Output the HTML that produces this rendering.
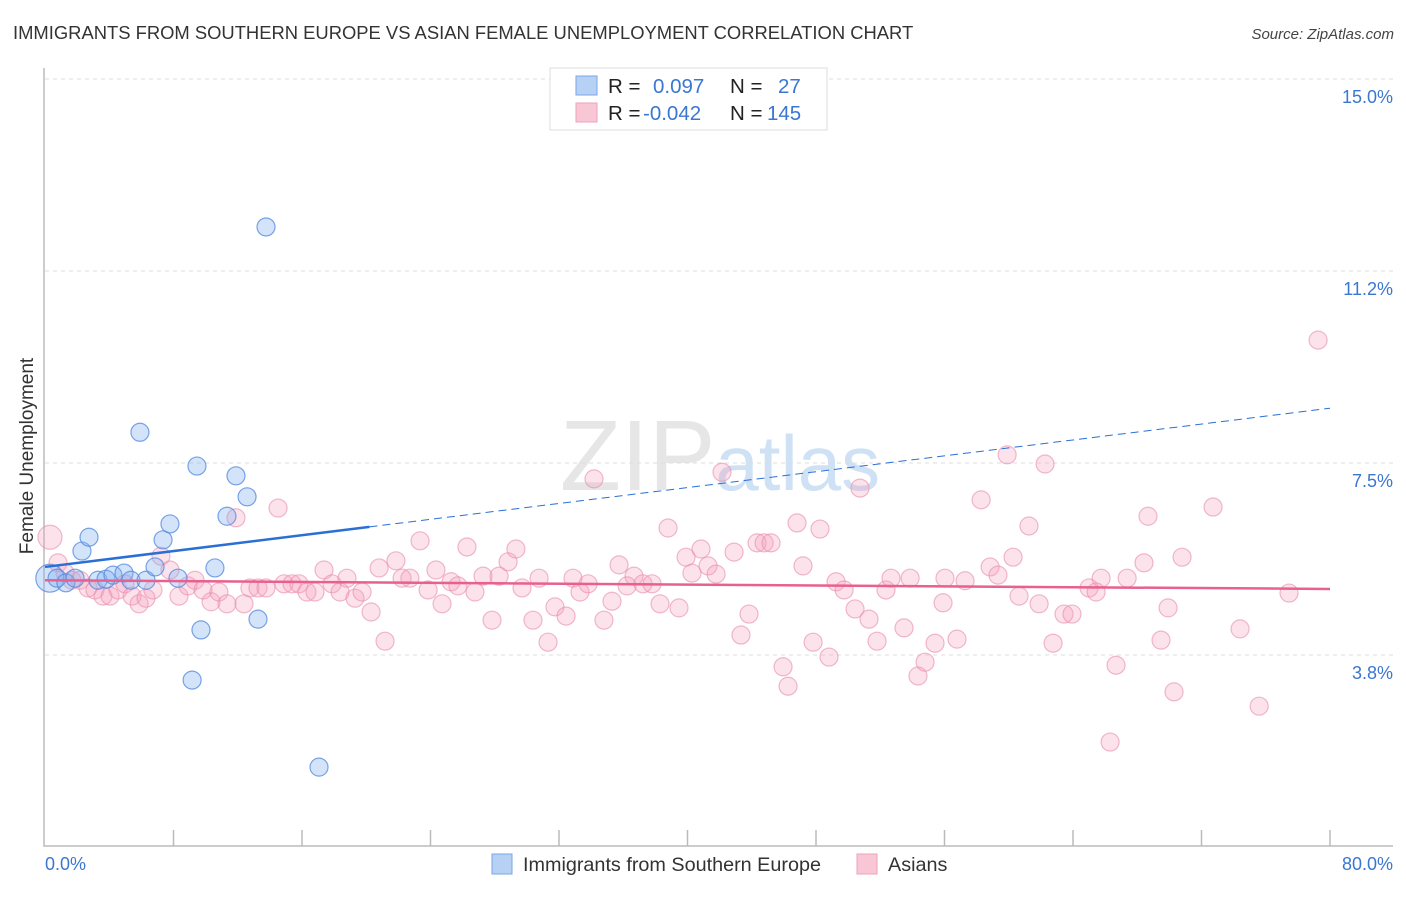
<!DOCTYPE html>
<html><head><meta charset="utf-8"><style>
body{margin:0;background:#fff;font-family:"Liberation Sans",sans-serif;}
svg text{font-family:"Liberation Sans",sans-serif;}
</style></head><body>
<svg id="chart" width="1406" height="892" xmlns="http://www.w3.org/2000/svg">
<text x="13" y="39" font-size="18.4" fill="#333">IMMIGRANTS FROM SOUTHERN EUROPE VS ASIAN FEMALE UNEMPLOYMENT CORRELATION CHART</text>
<text x="1394" y="39" font-size="15" fill="#444" text-anchor="end" font-style="italic">Source: ZipAtlas.com</text>
<text x="720" y="490" font-size="100" text-anchor="middle" font-family="Liberation Serif" fill="#e0e0e0" opacity="0.8">ZIP<tspan fill="#c4daf2" font-family="Liberation Sans" font-size="78">atlas</tspan></text>
<text transform="translate(33,456) rotate(-90)" font-size="19" fill="#333" text-anchor="middle">Female Unemployment</text>
<g id="grid"></g><g id="axes"></g><g id="pts"></g><g id="trends"></g>
<g>
<rect x="550" y="68" width="277" height="62" fill="#fff" stroke="#ddd"/>
<rect x="576" y="76" width="21" height="19" fill="#b7d1f5" stroke="#7aa6e6"/>
<rect x="576" y="103" width="21" height="19" fill="#f9c6d5" stroke="#eea3bb"/>
<text x="608" y="93" font-size="20.5" fill="#222">R =</text><text x="653" y="93" font-size="20.5" fill="#3a77d1">0.097</text>
<text x="730" y="93" font-size="20.5" fill="#222">N =</text><text x="778" y="93" font-size="20.5" fill="#3a77d1">27</text>
<text x="608" y="120" font-size="20.5" fill="#222">R =</text><text x="643" y="120" font-size="20.5" fill="#3a77d1">-0.042</text>
<text x="730" y="120" font-size="20.5" fill="#222">N =</text><text x="767" y="120" font-size="20.5" fill="#3a77d1">145</text>
</g>
<g>
<rect x="492" y="854" width="20" height="20" fill="#b7d1f5" stroke="#7aa6e6"/>
<text x="523" y="871" font-size="19.8" fill="#333">Immigrants from Southern Europe</text>
<rect x="857" y="854" width="20" height="20" fill="#f9c6d5" stroke="#eea3bb"/>
<text x="888" y="871" font-size="19.8" fill="#333">Asians</text>
</g>
</svg>
<script>
const yTicks=[3.8,7.5,11.2,15.0];
const yTickVals=[3.75,7.5,11.25,15];
const xLabels=["0.0%","80.0%"];
const blueX=[0.3,0.75,1.3,1.87,2.3,2.74,3.3,3.8,4.23,4.92,5.35,5.91,6.29,6.85,7.35,7.78,8.28,9.16,9.46,9.71,10.58,11.33,11.89,12.58,13.26,13.76,17.06];
const blueY=[5.25,5.25,5.16,5.25,5.78,6.05,5.21,5.23,5.31,5.35,5.21,8.1,5.21,5.47,6.0,6.31,5.25,3.26,7.44,4.24,5.45,6.46,7.25,6.84,4.45,12.11,1.56];
const pinkX=[0.31,0.81,1.25,1.68,2.18,2.68,3.11,3.61,4.05,4.55,4.98,5.42,5.86,6.29,6.72,7.22,7.78,8.34,8.90,9.34,9.84,10.34,10.83,11.33,11.89,12.39,12.76,13.26,13.76,14.51,14.88,15.38,15.81,16.31,16.81,17.37,17.87,18.37,18.80,19.30,19.74,20.30,20.80,21.17,21.85,22.23,22.72,23.35,23.85,24.34,24.72,25.28,25.71,26.27,26.77,27.27,27.83,28.27,28.83,29.32,29.70,30.38,30.76,31.32,31.75,32.44,32.87,33.31,33.81,34.18,34.80,35.30,35.74,36.24,36.67,37.23,37.79,38.29,38.79,39.47,39.91,40.28,40.84,41.28,41.78,42.15,42.90,43.33,43.83,44.33,44.77,45.20,45.95,46.26,46.82,47.19,47.82,48.25,48.81,49.25,49.75,50.43,50.74,51.30,51.80,52.36,52.67,53.48,53.86,54.35,54.79,55.41,55.91,56.03,56.78,57.28,58.28,58.84,59.33,59.90,60.27,60.64,61.26,61.89,62.26,62.76,63.44,63.94,65.00,65.44,65.75,66.31,66.68,67.37,68.42,68.67,69.48,69.92,70.29,70.79,72.72,74.40,75.59,77.45,79.26];
const pinkY=[6.05,5.55,5.35,5.21,5.21,5.06,5.02,4.90,4.90,5.02,5.14,4.90,4.75,4.86,5.02,5.68,5.41,4.90,5.10,5.21,5.02,4.79,4.98,4.75,6.43,4.75,5.06,5.06,5.06,6.62,5.14,5.14,5.14,4.98,4.98,5.41,5.14,4.98,5.25,4.86,4.98,4.59,5.45,4.02,5.59,5.25,5.25,5.98,5.02,5.41,4.75,5.18,5.10,5.86,4.98,5.29,4.43,5.29,5.57,5.82,5.06,4.43,5.25,4.00,4.69,4.51,5.25,4.98,5.14,7.19,4.43,4.80,5.51,5.10,5.29,5.14,5.14,4.75,6.23,4.67,5.66,5.35,5.82,5.49,5.33,7.32,5.76,4.14,4.55,5.94,5.94,5.94,3.52,3.14,6.33,5.49,4.00,6.21,3.71,5.18,5.02,4.65,7.01,4.45,4.02,5.02,5.25,4.28,5.25,3.34,3.61,3.98,4.77,5.25,4.06,5.20,6.78,5.47,5.31,7.66,5.66,4.90,6.27,4.75,7.48,3.98,4.55,4.55,5.06,4.98,5.25,2.05,3.55,5.25,5.55,6.46,4.04,4.67,3.03,5.66,6.64,4.26,2.75,4.96,9.90];
const blueTrend=[5.47,8.57], blueSolidEnd=20.2;
const pinkTrend=[5.21,5.04];
const NS="http://www.w3.org/2000/svg";
const sx=v=>45+v/80*1285, sy=v=>847-v/3.75*192;
function mk(p,t,a){const e=document.createElementNS(NS,t);for(const k in a)e.setAttribute(k,a[k]);document.getElementById(p).appendChild(e);return e;}
yTickVals.forEach((v,i)=>{
 const g=mk('grid','line',{x1:45,x2:1393,y1:sy(v),y2:sy(v),stroke:'#ddd','stroke-dasharray':'4,4'});
 
 
 const t=mk('grid','text',{x:1393,y:sy(v)+24,'font-size':18,fill:'#3a77d1','text-anchor':'end'});
 t.textContent=yTicks[i].toFixed(1)+'%';
 
 
});
const ax=mk('axes','path',{d:'M44 68V846H1393',fill:'none',stroke:'#bbb','stroke-width':1.5});


for(let k=1;k<=10;k++){const tk=mk('axes','line',{x1:sx(k*8),x2:sx(k*8),y1:830,y2:846,stroke:'#bbb','stroke-width':1.5});
 
 }
[0,80].forEach((v,i)=>{const t=mk('axes','text',{x:i?1393:45,y:870,'font-size':18,fill:'#3a77d1','text-anchor':i?'end':'start'});
 t.textContent=xLabels[i];
 
 });
pinkX.forEach((x,i)=>{const c=mk('pts','circle',{cx:sx(x),cy:sy(pinkY[i]),r:i==0?12:9,fill:'rgba(244,160,188,0.3)',stroke:'rgba(232,140,170,0.6)','stroke-width':1.2});
 
 });
blueX.forEach((x,i)=>{const c=mk('pts','circle',{cx:sx(x),cy:sy(blueY[i]),r:i==0?14:9,fill:'rgba(130,175,240,0.35)',stroke:'rgba(80,135,220,0.75)','stroke-width':1.2});
 
 });
const by=x=>blueTrend[0]+(blueTrend[1]-blueTrend[0])*x/80;
const b1=mk('trends','line',{x1:sx(0),y1:sy(by(0)),x2:sx(blueSolidEnd),y2:sy(by(blueSolidEnd)),stroke:'#2b6fd6','stroke-width':2.5});


const b2=mk('trends','line',{x1:sx(blueSolidEnd),y1:sy(by(blueSolidEnd)),x2:sx(80),y2:sy(by(80)),stroke:'#2b6fd6','stroke-width':1,'stroke-dasharray':'8,5'});


const p1=mk('trends','line',{x1:sx(0),y1:sy(pinkTrend[0]),x2:sx(80),y2:sy(pinkTrend[1]),stroke:'#e8608f','stroke-width':2.5});


</script>
</body></html>
